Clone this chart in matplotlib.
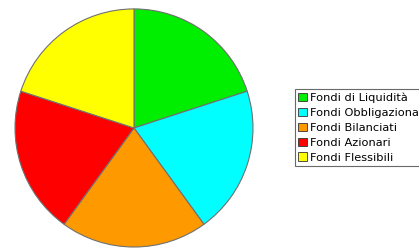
import matplotlib
matplotlib.use("Agg")
import matplotlib.pyplot as plt
from matplotlib.patches import Patch

labels = ["Fondi di Liquidità", "Fondi Obbligazionari", "Fondi Bilanciati",
          "Fondi Azionari", "Fondi Flessibili"]
values = [20, 20, 20, 20, 20]
colors = ["#00ee00", "#00ffff", "#ff9900", "#ff0000", "#ffff00"]

fig = plt.figure(figsize=(4.19, 2.48), dpi=100)
ax = fig.add_axes([0.0358, 0.004, 0.568, 0.96])
ax.pie(values, colors=colors, startangle=90, counterclock=False,
       wedgeprops=dict(edgecolor="#707070", linewidth=0.8))
ax.set_aspect("auto")
ax.set_xlim(-1.0, 1.0)
ax.set_ylim(-1.0, 1.0)

handles = [Patch(facecolor=c, edgecolor="#333333", linewidth=0.6) for c in colors]
leg = fig.legend(handles, labels, loc="upper left",
                 bbox_to_anchor=(295 / 419, 1 - 89 / 248),
                 fontsize=8.2, frameon=True, fancybox=False,
                 handlelength=0.75, handleheight=0.75, handletextpad=0.3,
                 labelspacing=0.42, borderpad=0.3, borderaxespad=0)
leg.get_frame().set_edgecolor("#444444")
leg.get_frame().set_linewidth(0.8)

fig.savefig("out.png", dpi=100)
